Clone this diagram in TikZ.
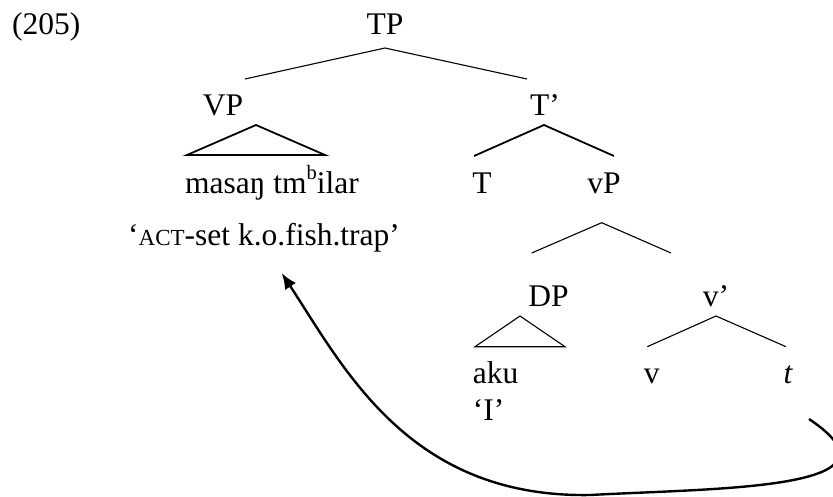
\documentclass[tikz,border=0pt]{standalone}
\usepackage{fontspec}
\setmainfont{Liberation Serif}
\usetikzlibrary{arrows.meta}
\begin{document}
\begin{tikzpicture}[x=1pt,y=-1pt,
  lbl/.style={inner sep=0pt,anchor=base,font=\fontsize{31.5}{36}\selectfont},
  lblw/.style={lbl,anchor=base west},
  thinbranch/.style={line width=1.1pt,line join=miter},
  thickbranch/.style={line width=1.8pt,line join=miter},
  movement/.style={line width=2.4pt,-{Latex[length=16pt,width=13pt]}}]
\useasboundingbox (0,0) rectangle (833,496);

% example number
\node[lblw] (ex) at (12,34.5) {(205)};

% labels of the tree
\node[lbl]  (TP)   at (385,34.5) {TP};
\node[lbl]  (VP)   at (223,115) {VP};
\node[lblw] (Tbar) at (530,115) {T’};
\node[lblw] (verb) at (185,193) {masaŋ tm\raisebox{0.42em}{\fontsize{20.5}{20.5}\selectfont b}ilar};
\node[lblw] (gloss) at (128,245) {‘{\fontsize{23}{23}\selectfont ACT}-set k.o.fish.trap’};
\node[lbl]  (T)    at (482,193) {T};
\node[lbl]  (vP)   at (604,193) {vP};
\node[lbl]  (DP)   at (548.5,306.7) {DP};
\node[lblw] (vbar) at (702.7,306.7) {v’};
\node[lblw] (aku)  at (472.7,383.3) {aku};
\node[lblw] (akugl) at (472.7,420) {‘I’};
\node[lbl]  (v)    at (651.7,383.3) {v};
\node[lbl]  (t)    at (788,383.3) {\itshape t};

% branch points
\coordinate (TPtop) at (385,48);
\coordinate (TPl) at (245,79);
\coordinate (TPr) at (527,79);
\coordinate (VPtop) at (256,125);
\coordinate (VPl) at (187,155);
\coordinate (VPr) at (325,155);
\coordinate (Tbtop) at (544,125);
\coordinate (Tbl) at (474,156);
\coordinate (Tbr) at (614,156);
\coordinate (vPtop) at (601.7,222.7);
\coordinate (vPl) at (531.7,253);
\coordinate (vPr) at (671,253);
\coordinate (DPtop) at (520,316);
\coordinate (DPl) at (475,346.7);
\coordinate (DPr) at (565,346.7);
\coordinate (vbtop) at (716,316);
\coordinate (vbl) at (647.3,346.7);
\coordinate (vbr) at (786,346.7);

% branches
\draw[thinbranch]  (TPl) -- (TPtop) -- (TPr);
\draw[thickbranch] (VPl) -- (VPtop) -- (VPr) -- cycle;
\draw[thickbranch] (Tbl) -- (Tbtop) -- (Tbr);
\draw[thinbranch]  (vPl) -- (vPtop) -- (vPr);
\draw[thinbranch]  (DPl) -- (DPtop) -- (DPr) -- cycle;
\draw[thinbranch]  (vbl) -- (vbtop) -- (vbr);

% movement of the verb phrase from the trace
\coordinate (trace) at (809,419);
\coordinate (low) at (590,495);
\coordinate (land) at (281.7,273);
\begin{scope}
\clip (0,0) rectangle (833,496);
\draw[movement] (trace) .. controls (915,490) and (720,488) .. (low)
  .. controls (410,498) and (345,370) .. (land);
\end{scope}
\end{tikzpicture}
\end{document}
